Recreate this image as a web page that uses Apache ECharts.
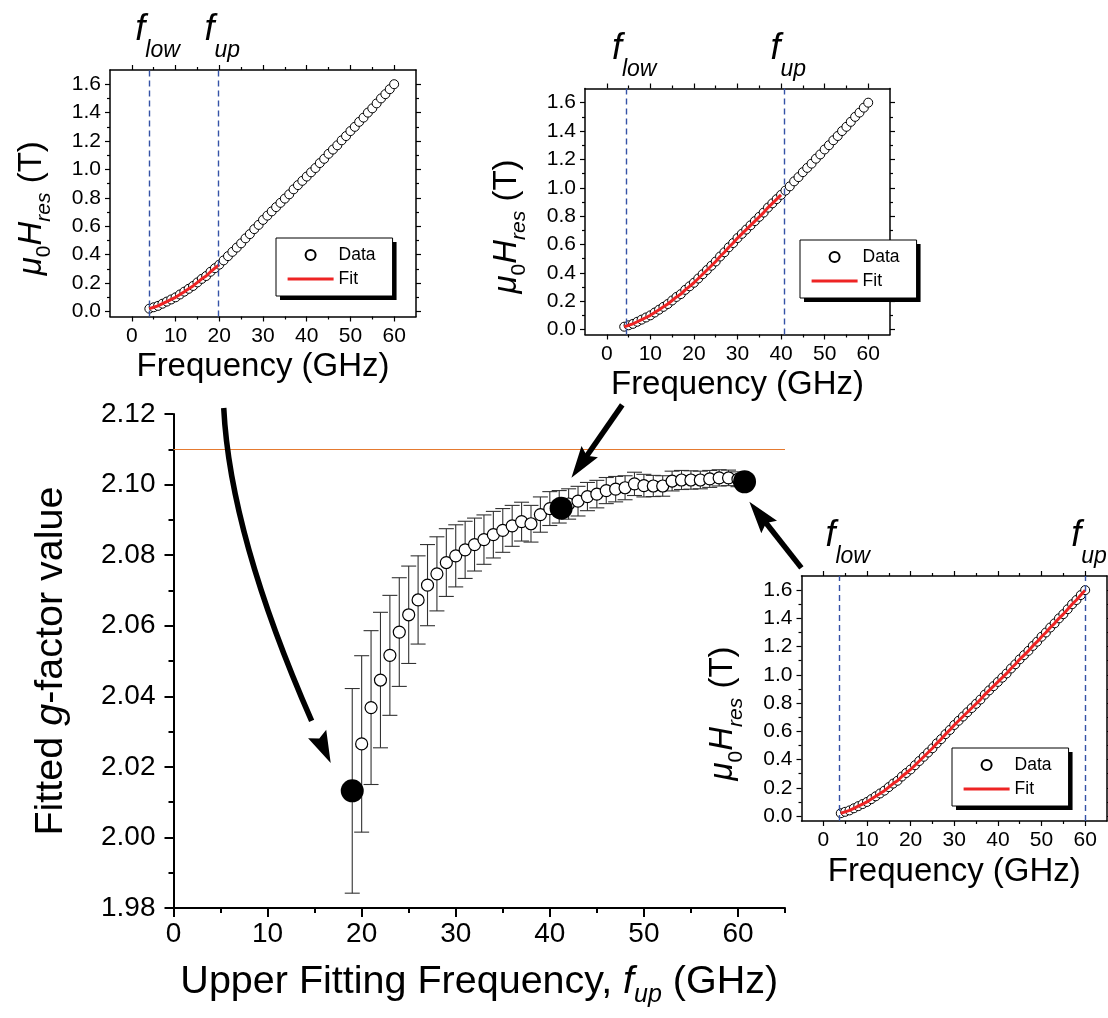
<!DOCTYPE html>
<html><head><meta charset="utf-8">
<script src="https://cdn.jsdelivr.net/npm/echarts@6/dist/echarts.min.js"></script>
<style>html,body{margin:0;padding:0;background:#fff}#c{width:1108px;height:1018px}</style>
</head><body><div id="c"></div>
<script>
// ---------------- data ----------------
// main panel: fitted g-factor vs upper fitting frequency
const mainFreq = [20,21,22,23,24,25,26,27,28,29,30,31,32,33,34,35,36,37,38,39,40,41,42,43,44,45,46,47,48,49,50,51,52,53,54,55,56,57,58,59,60];
const mainG = [2.0265,2.0368,2.0446,2.0516,2.0582,2.0631,2.0673,2.0715,2.0747,2.0779,2.0798,2.0815,2.0830,2.0844,2.0858,2.0870,2.0883,2.0895,2.0889,2.0915,2.0932,2.0937,2.0945,2.0953,2.0966,2.0973,2.0983,2.0987,2.0991,2.1002,2.0997,2.0996,2.0996,2.1010,2.1013,2.1013,2.1013,2.1016,2.1019,2.1019,2.1015];
const mainErr = [0.025,0.0218,0.0192,0.0170,0.0154,0.0138,0.0125,0.0115,0.0105,0.0096,0.0088,0.0081,0.0075,0.0070,0.0066,0.0062,0.0058,0.0055,0.0052,0.0050,0.0048,0.0046,0.0043,0.0042,0.0040,0.0039,0.0037,0.0036,0.0034,0.0033,0.0032,0.0030,0.0029,0.0028,0.0027,0.0026,0.0025,0.0024,0.0023,0.0022,0.0021];
const selFreq = [19, 41.2, 60.7];
const selG = [2.0132, 2.0933, 2.1008];
const selErr = [0.029, 0, 0];
const refG = 2.1092;
const mainXTicks = [0,10,20,30,40,50,60];
const mainXMinor = [5,15,25,35,45,55,65];
const mainYTicks = [1.98,2.00,2.02,2.04,2.06,2.08,2.10,2.12];
const mainYMinor = [1.99,2.01,2.03,2.05,2.07,2.09,2.11];

// insets: resonance field vs frequency
const insetFreq = [4,5,6,7,8,9,10,11,12,13,14,15,16,17,18,19,20,21,22,23,24,25,26,27,28,29,30,31,32,33,34,35,36,37,38,39,40,41,42,43,44,45,46,47,48,49,50,51,52,53,54,55,56,57,58,59,60];
const insetField = [0.02,0.03,0.04,0.055,0.07,0.085,0.10,0.12,0.14,0.16,0.18,0.205,0.23,0.25,0.28,0.305,0.33,0.36,0.39,0.42,0.45,0.48,0.515,0.545,0.58,0.61,0.645,0.675,0.705,0.735,0.765,0.795,0.825,0.86,0.89,0.92,0.95,0.98,1.01,1.045,1.075,1.11,1.14,1.17,1.205,1.235,1.27,1.30,1.335,1.365,1.40,1.43,1.465,1.50,1.53,1.565,1.60];
const fitEnd = [20, 40, 60];
const fLowMark = [4.0, 4.4, 3.7];
const fUpMark = [19.8, 40.8, 60.0];
const insetXTicks = [0,10,20,30,40,50,60];
const insetXMinor = [5,15,25,35,45,55];
const insetYTicks = [0,0.2,0.4,0.6,0.8,1.0,1.2,1.4,1.6];
const insetYMinor = [0.1,0.3,0.5,0.7,0.9,1.1,1.3,1.5];

// annotation arrows (main-panel data coordinates)
const arrowCurve = {from:[5.34,2.1217], ctrl:[6.09,2.0817], to:[16.71,2.0211]};
const arrowStraight = [
  {from:[47.7,2.1226], to:[42.3,2.1019]},
  {from:[66.74,2.0764], to:[61.21,2.0951]}
];

// ---------------- chart ----------------
const FONT = "'Liberation Sans', Arial, sans-serif";
const BLUE = '#3452a6';
const chart = echarts.init(document.getElementById('c'));

const grids = [
  {left:173.5, right:323, top:414, bottom:110},
  {left:110, top:70, width:306, height:246.5},
  {left:585, top:88.5, width:305, height:246},
  {left:801.5, top:576, width:305.5, height:245}
];

const xAxes = [], yAxes = [];
const noSplit = {splitLine:{show:false}, splitArea:{show:false}};
const hiddenLine = {show:false, onZero:false};
// main axes
xAxes.push({gridIndex:0, type:'value', min:0, max:65, position:'bottom', ...noSplit,
  axisLine:{onZero:false, lineStyle:{color:'#000', width:2}},
  axisTick:{inside:false, length:9, customValues:mainXTicks, lineStyle:{color:'#000', width:2}},
  axisLabel:{customValues:mainXTicks, fontSize:28, color:'#000', margin:12, fontFamily:FONT},
  name:'{n|Upper Fitting Frequency, }{i|f}{s|up}{n| (GHz)}', nameLocation:'middle', nameGap:48,
  nameTextStyle:{fontSize:39.5, color:'#000', fontFamily:FONT, rich:{
    n:{fontSize:39.5, color:'#000', fontFamily:FONT},
    i:{fontSize:39.5, color:'#000', fontFamily:FONT, fontStyle:'italic'},
    s:{fontSize:25, color:'#000', fontFamily:FONT, fontStyle:'italic', padding:[27,0,0,0]}}}
});
xAxes.push({gridIndex:0, type:'value', min:0, max:65, position:'bottom', ...noSplit,
  axisLine:hiddenLine, axisLabel:{show:false},
  axisTick:{inside:false, length:5, customValues:mainXMinor, lineStyle:{color:'#000', width:2}}});
yAxes.push({gridIndex:0, type:'value', min:1.98, max:2.12, position:'left', ...noSplit,
  axisLine:{onZero:false, lineStyle:{color:'#000', width:2}},
  axisTick:{inside:false, length:9, customValues:mainYTicks, lineStyle:{color:'#000', width:2}},
  axisLabel:{customValues:mainYTicks, fontSize:28, color:'#000', margin:18, fontFamily:FONT, formatter:v=>v.toFixed(2)},
  name:'{n|Fitted }{i|g}{n|-factor value}', nameLocation:'middle', nameGap:102,
  nameTextStyle:{fontSize:39.5, color:'#000', fontFamily:FONT, rich:{
    n:{fontSize:39.5, color:'#000', fontFamily:FONT},
    i:{fontSize:39.5, color:'#000', fontFamily:FONT, fontStyle:'italic'}}}
});
yAxes.push({gridIndex:0, type:'value', min:1.98, max:2.12, position:'left', ...noSplit,
  axisLine:hiddenLine, axisLabel:{show:false},
  axisTick:{inside:false, length:5, customValues:mainYMinor, lineStyle:{color:'#000', width:2}}});

// inset axes
const tickStyle = {color:'#000', width:1.2};
for (let k = 0; k < 3; k++) {
  const g = k + 1;
  const xb = {gridIndex:g, type:'value', min:-5, max:65, ...noSplit};
  const yb = {gridIndex:g, type:'value', min:-0.035, max:1.7, ...noSplit};
  xAxes.push({...xb, position:'bottom',
    axisLine:{onZero:false, lineStyle:{color:'#000', width:1.5}},
    axisTick:{inside:false, length:5, customValues:insetXTicks, lineStyle:tickStyle},
    axisLabel:{customValues:insetXTicks, fontSize:21, color:'#000', margin:9, fontFamily:FONT},
    name:'Frequency (GHz)', nameLocation:'middle', nameGap:34,
    nameTextStyle:{fontSize:33, color:'#000', fontFamily:FONT}});
  xAxes.push({...xb, position:'bottom', axisLine:hiddenLine, axisLabel:{show:false},
    axisTick:{inside:false, length:3, customValues:insetXMinor, lineStyle:tickStyle}});
  xAxes.push({...xb, position:'top', axisLine:{onZero:false, lineStyle:{color:'#000', width:1.5}}, axisLabel:{show:false},
    axisTick:{inside:false, length:5, customValues:insetXTicks, lineStyle:tickStyle}});
  xAxes.push({...xb, position:'top', axisLine:hiddenLine, axisLabel:{show:false},
    axisTick:{inside:false, length:3, customValues:insetXMinor, lineStyle:tickStyle}});

  yAxes.push({...yb, position:'left',
    axisLine:{onZero:false, lineStyle:{color:'#000', width:1.5}},
    axisTick:{inside:false, length:5, customValues:insetYTicks, lineStyle:tickStyle},
    axisLabel:{customValues:insetYTicks, fontSize:21, color:'#000', margin:9, fontFamily:FONT, formatter:v=>v.toFixed(1)},
    name:'{i|μ}{s|0}{i|H}{si|res}{e| (T)}', nameLocation:'middle', nameGap:55,
    nameTextStyle:{fontSize:33, color:'#000', fontFamily:FONT, rich:{
      e:{fontSize:33, color:'#000', fontFamily:FONT, padding:[0,30,0,0]},
      i:{fontSize:33, color:'#000', fontFamily:FONT, fontStyle:'italic'},
      s:{fontSize:21, color:'#000', fontFamily:FONT, padding:[26,0,0,0]},
      si:{fontSize:21, color:'#000', fontFamily:FONT, fontStyle:'italic', padding:[26,0,0,0]}}}});
  yAxes.push({...yb, position:'left', axisLine:hiddenLine, axisLabel:{show:false},
    axisTick:{inside:false, length:3, customValues:insetYMinor, lineStyle:tickStyle}});
  yAxes.push({...yb, position:'right', axisLine:{onZero:false, lineStyle:{color:'#000', width:1.5}}, axisLabel:{show:false},
    axisTick:{inside:false, length:5, customValues:insetYTicks, lineStyle:tickStyle}});
  yAxes.push({...yb, position:'right', axisLine:hiddenLine, axisLabel:{show:false},
    axisTick:{inside:false, length:3, customValues:insetYMinor, lineStyle:tickStyle}});
}

const series = [];
// main: reference line + error bars
const errData = mainFreq.map((f,i)=>[f, mainG[i], mainErr[i]])
  .concat(selFreq.map((f,i)=>[f, selG[i], selErr[i]]).filter(d=>d[2]>0));
series.push({
  type:'custom', xAxisIndex:0, yAxisIndex:0, z:2, silent:true,
  encode:{x:0, y:1}, data:errData,
  renderItem:(params, api)=>{
    const x = api.value(0), y = api.value(1), e = api.value(2);
    const t = api.coord([x, y+e]), b = api.coord([x, y-e]);
    const hw = 7.5, st = {stroke:'#333', lineWidth:1.1};
    return {type:'group', children:[
      {type:'line', shape:{x1:t[0], y1:t[1], x2:b[0], y2:b[1]}, style:st},
      {type:'line', shape:{x1:t[0]-hw, y1:t[1], x2:t[0]+hw, y2:t[1]}, style:st},
      {type:'line', shape:{x1:b[0]-hw, y1:b[1], x2:b[0]+hw, y2:b[1]}, style:st}
    ]};
  },
  markLine:{silent:true, symbol:['none','none'], label:{show:false},
    lineStyle:{color:'#e57a30', width:1.2, type:'solid', opacity:1}, data:[{yAxis:refG}]}
});
series.push({
  type:'scatter', xAxisIndex:0, yAxisIndex:0, z:3, symbol:'circle', symbolSize:12,
  itemStyle:{color:'#fff', borderColor:'#000', borderWidth:1.2, opacity:1},
  data:mainFreq.map((f,i)=>[f, mainG[i]])
});
series.push({
  type:'scatter', xAxisIndex:0, yAxisIndex:0, z:4, symbol:'circle', symbolSize:23,
  itemStyle:{color:'#000', opacity:1},
  data:selFreq.map((f,i)=>[f, selG[i]])
});
// insets
for (let k = 0; k < 3; k++) {
  const xi = 2 + k*4, yi = 2 + k*4;
  series.push({
    name:'Data', type:'scatter', xAxisIndex:xi, yAxisIndex:yi, z:3, symbol:'circle', symbolSize:9,
    itemStyle:{color:'#fff', borderColor:'#000', borderWidth:1, opacity:1},
    data:insetFreq.map((f,i)=>[f, insetField[i]])
  });
  series.push({
    name:'Fit', type:'line', xAxisIndex:xi, yAxisIndex:yi, z:4, symbol:'none', showSymbol:false,
    lineStyle:{color:'#ee2424', width:3}, itemStyle:{color:'#ee2424'},
    data:insetFreq.map((f,i)=>[f, insetField[i]]).filter(d=>d[0] <= fitEnd[k]),
    markLine:{silent:true, symbol:['none','none'], label:{show:false},
      lineStyle:{color:BLUE, width:1.4, type:[6,4]},
      data:[{xAxis:fLowMark[k]}, {xAxis:fUpMark[k]}]}
  });
}

const legendPos = [{left:276, top:238}, {left:800, top:240}, {left:952, top:748}];
const legends = legendPos.map(p => ({
  ...p, z:10, orient:'vertical', selectedMode:false,
  data:[{name:'Data'}, {name:'Fit', itemStyle:{opacity:0}}],
  itemWidth:46, itemHeight:10, itemGap:6, padding:[8,17,8,10],
  lineStyle:{width:3.2},
  backgroundColor:'#fff', borderColor:'#000', borderWidth:1,
  textStyle:{fontSize:17.5, color:'#000', fontFamily:FONT}
}));

chart.setOption({
  animation:false,
  backgroundColor:'#fff',
  textStyle:{fontFamily:FONT},
  grid:grids, xAxis:xAxes, yAxis:yAxes, legend:legends, series:series
});

// ---------- annotations (positioned through the axes) ----------
const gfx = [];
const toPx = (v)=>chart.convertToPixel({xAxisIndex:0, yAxisIndex:0}, v);
function head(tip, dir, L, W) {
  const bx = tip[0]-dir[0]*L, by = tip[1]-dir[1]*L;
  const nx = -dir[1], ny = dir[0];
  const notch = [bx+dir[0]*5, by+dir[1]*5];
  return {type:'polygon', z:50, shape:{points:[tip, [bx+nx*W, by+ny*W], notch, [bx-nx*W, by-ny*W]]}, style:{fill:'#000'}};
}
function norm(a, b) { const dx=b[0]-a[0], dy=b[1]-a[1]; const l=Math.hypot(dx,dy); return [dx/l, dy/l]; }
{
  const p0 = toPx(arrowCurve.from), c = toPx(arrowCurve.ctrl), p2 = toPx(arrowCurve.to);
  const t = 0.9;
  const c1 = [p0[0]+(c[0]-p0[0])*t, p0[1]+(c[1]-p0[1])*t];
  const e = [(1-t)*(1-t)*p0[0]+2*(1-t)*t*c[0]+t*t*p2[0], (1-t)*(1-t)*p0[1]+2*(1-t)*t*c[1]+t*t*p2[1]];
  gfx.push({type:'bezierCurve', z:49, shape:{x1:p0[0], y1:p0[1], cpx1:c1[0], cpy1:c1[1], x2:e[0], y2:e[1]},
    style:{stroke:'#000', lineWidth:5.5, fill:null}});
  gfx.push(head(p2, norm(c, p2), 32, 10));
}
arrowStraight.forEach(a => {
  const p0 = toPx(a.from), p1 = toPx(a.to);
  const d = norm(p0, p1);
  gfx.push({type:'line', z:49, shape:{x1:p0[0], y1:p0[1], x2:p1[0]-d[0]*20, y2:p1[1]-d[1]*20},
    style:{stroke:'#000', lineWidth:5.5}});
  gfx.push(head(p1, d, 32, 10));
});
// f_low / f_up labels above the dashed lines
const fRich = {
  f:{fontSize:36, fontStyle:'italic', color:BLUE, fontFamily:FONT},
  s:{fontSize:23, fontStyle:'italic', color:BLUE, fontFamily:FONT, padding:[41,0,0,0]}
};
for (let k = 0; k < 3; k++) {
  const xi = 2 + k*4, yi = 2 + k*4;
  [[fLowMark[k],'low'], [fUpMark[k],'up']].forEach(([fx, txt]) => {
    const p = chart.convertToPixel({xAxisIndex:xi, yAxisIndex:yi}, [fx, 1.7]);
    gfx.push({type:'text', z:50, silent:true, style:{
      x:p[0]-14, y:p[1]-7.6, align:'left', verticalAlign:'bottom',
      text:'{f|f}{s|' + txt + '}', rich:fRich}});
  });
}
// hard drop-shadow behind each legend box
for (let i = 0; i < legendPos.length; i++) {
  let r = null;
  try {
    const m = chart.getModel().getComponent('legend', i);
    const v = chart.getViewOfComponentModel(m);
    const b = v.group.getBoundingRect().clone();
    b.applyTransform(v.group.getLocalTransform());
    r = {x:b.x, y:b.y, width:b.width, height:b.height};
  } catch (e) { r = null; }
  if (!r || !isFinite(r.width) || r.width <= 0) r = {x:legendPos[i].left, y:legendPos[i].top, width:114, height:57};
  gfx.push({type:'rect', z:9, silent:true, shape:{x:r.x+4.5, y:r.y+4.5, width:r.width-1, height:r.height-1}, style:{fill:'#000'}});
}
chart.setOption({graphic:gfx});
</script></body></html>
